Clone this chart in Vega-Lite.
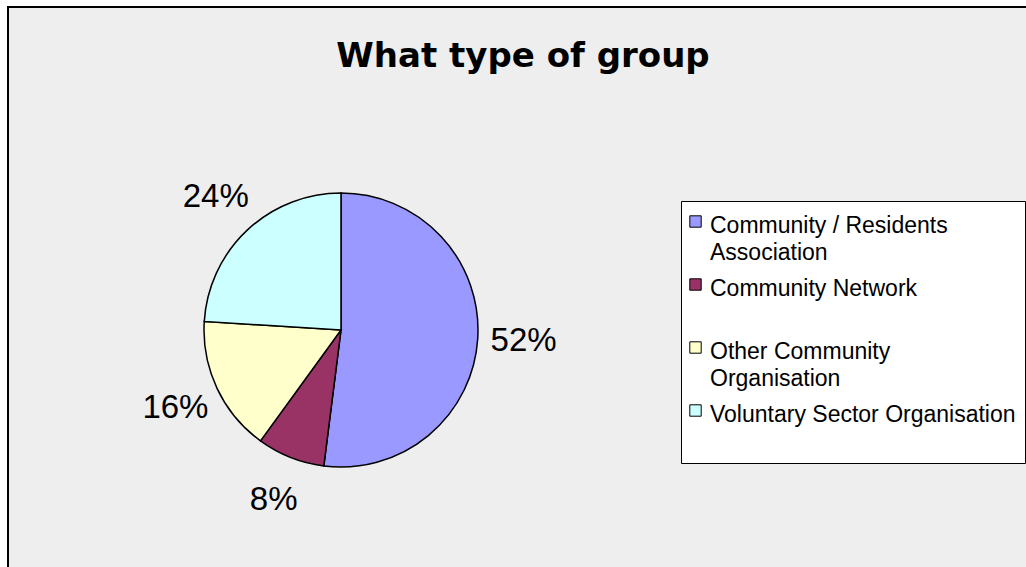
{
  "$schema": "https://vega.github.io/schema/vega-lite/v6.json",
  "autosize": "none",
  "width": 1030,
  "height": 580,
  "padding": {"left": 8, "top": 7, "right": 0, "bottom": 0},
  "background": "white",
  "view": {"fill": "#eeeeee", "stroke": "black", "strokeWidth": 2},
  "title": {
    "text": "What type of group",
    "anchor": "middle",
    "offset": -67,
    "font": "DejaVu Sans",
    "fontSize": 34,
    "fontWeight": "bold",
    "color": "black"
  },
  "data": {
    "values": [
      {"group": "Community / Residents Association", "share": 0.52},
      {"group": "Community Network", "share": 0.08},
      {"group": "Other Community Organisation", "share": 0.16},
      {"group": "Voluntary Sector Organisation", "share": 0.24}
    ]
  },
  "encoding": {
    "theta": {"field": "share", "type": "quantitative", "stack": true},
    "order": {"field": "group", "type": "ordinal"}
  },
  "layer": [
    {
      "mark": {"type": "arc", "outerRadius": 137, "x": 333, "y": 323, "stroke": "black", "strokeWidth": 1.5},
      "encoding": {
        "color": {
          "field": "group",
          "type": "nominal",
          "scale": {
            "domain": ["Community / Residents Association", "Community Network", "Other Community Organisation", "Voluntary Sector Organisation"],
            "range": ["#9999ff", "#993366", "#ffffcc", "#ccffff"]
          },
          "legend": {
            "title": null,
            "orient": "none",
            "legendX": 673,
            "legendY": 194,
            "fillColor": "white",
            "strokeColor": "black",
            "padding": 9,
            "symbolType": "square",
            "symbolSize": 130,
            "symbolOffset": -6,
            "symbolStrokeColor": "black",
            "symbolStrokeWidth": 1,
            "labelFont": "Liberation Sans",
            "labelFontSize": 23,
            "labelColor": "black",
            "labelLimit": 0,
            "labelOffset": 3,
            "labelBaseline": "middle",
            "gridAlign": "all",
            "rowPadding": 8,
            "labelExpr": "datum.label == 'Community / Residents Association' ? ['Community / Residents', 'Association'] : datum.label == 'Other Community Organisation' ? ['Other Community', 'Organisation'] : [datum.label, '']",
            "encode": {
              "labels": {"update": {"lineHeight": {"value": 27}, "dy": {"value": 4}}},
              "symbols": {"update": {"stroke": {"value": "black"}, "strokeWidth": {"value": 1}}}
            }
          }
        }
      }
    },
    {
      "mark": {"type": "text", "radius": 183, "x": 333, "y": 323, "font": "Liberation Sans", "fontSize": 33, "color": "black"},
      "encoding": {
        "detail": {"field": "group", "type": "nominal"},
        "text": {"field": "share", "type": "quantitative", "format": ".0%"}
      }
    }
  ]
}
